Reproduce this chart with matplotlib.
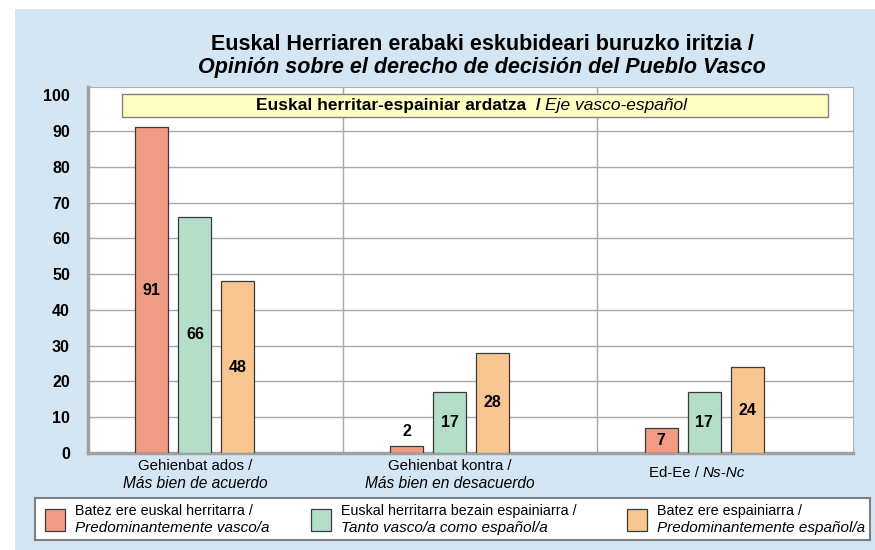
import numpy as np
import matplotlib
matplotlib.use('Agg')
import matplotlib.pyplot as plt
from matplotlib.patches import Rectangle
from matplotlib import transforms

plt.rcParams['font.family'] = ['Liberation Sans', 'DejaVu Sans']

# data
categories = ['Gehienbat ados /', 'Gehienbat kontra /', 'Ed-Ee / ']
categories_es = ['Más bien de acuerdo', 'Más bien en desacuerdo', 'Ns-Nc']
series_eu = ['Batez ere euskal herritarra /', 'Euskal herritarra bezain espainiarra /',
             'Batez ere espainiarra /']
series_es = ['Predominantemente vasco/a', 'Tanto vasco/a como español/a',
             'Predominantemente español/a']
vasco = [91, 2, 7]
tanto = [66, 17, 17]
espanol = [48, 28, 24]
values = [vasco, tanto, espanol]
colors = ['#f09c84', '#b4dec8', '#f8c690']
yticks = list(range(0, 101, 10))

fig = plt.figure(figsize=(8.75, 5.5), dpi=100)
fig.patch.set_facecolor('white')
fig.patches.append(Rectangle((15 / 875, 0), 1, 1 - 9 / 550, transform=fig.transFigure,
                             facecolor='#d4e6f4', edgecolor='none', zorder=-10))

ax = fig.add_axes([88 / 875, 97 / 550, 765 / 875, 366 / 550])
ax.set_facecolor('white')

x = np.arange(len(categories))
width = 0.13
step = 0.169
for i, (vals, c) in enumerate(zip(values, colors)):
    pos = x + (i - 1) * step
    ax.bar(pos, vals, width, color=c, edgecolor='#3a3a3a', linewidth=0.9, zorder=3)
    for p, v in zip(pos, vals):
        ypos = v / 2 if v > 5 else v + 4
        ax.text(p, ypos, str(v), ha='center', va='center', fontsize=11.5,
                fontweight='bold', zorder=4)

ax.set_xlim(-0.42, 2.585)
ax.set_ylim(0, 102.3)
ax.set_yticks(yticks)
ax.set_yticklabels([str(t) for t in yticks], fontsize=11.5, fontweight='bold')
ax.tick_params(axis='y', length=0, pad=13)
ax.set_xticks([])
ax.grid(axis='y', color='#a8a8a8', linewidth=1, zorder=0)
ax.yaxis.get_gridlines()[-1].set_visible(False)
for xv in [0.58, 1.58]:
    ax.axvline(xv, color='#a8a8a8', linewidth=1, zorder=0)
for s in ['top', 'right']:
    ax.spines[s].set_color('#b0b0b0')
for s in ['left', 'bottom']:
    ax.spines[s].set_color('#a0a0a0')
    ax.spines[s].set_linewidth(2.5)

# category labels
trans = transforms.blended_transform_factory(ax.transData, ax.transAxes)
for xi, eu, es in zip(x, categories, categories_es):
    if es == 'Ns-Nc':
        ax.text(xi - 0.005, -0.055, eu, transform=trans, ha='right', va='center', fontsize=10.8)
        ax.text(xi - 0.005, -0.055, es, transform=trans, ha='left', va='center',
                fontsize=11, style='italic')
    else:
        ax.text(xi, -0.036, eu, transform=trans, ha='center', va='center', fontsize=10.8)
        ax.text(xi, -0.082, es, transform=trans, ha='center', va='center',
                fontsize=11.2, style='italic')

# yellow banner
ax.add_patch(Rectangle((0.044, 0.918), 0.923, 0.063, transform=ax.transAxes,
                       facecolor='#ffffc4', edgecolor='#808080', linewidth=1,
                       zorder=5, clip_on=False))
ax.text(0.592, 0.949, 'Euskal herritar-espainiar ardatza  /', transform=ax.transAxes,
        ha='right', va='center', fontsize=12.5, fontweight='bold', zorder=6)
ax.text(0.598, 0.949, 'Eje vasco-español', transform=ax.transAxes,
        ha='left', va='center', fontsize=12.5, style='italic', zorder=6)

# title
fig.text(482 / 875, 1 - 44 / 550, 'Euskal Herriaren erabaki eskubideari buruzko iritzia /',
         ha='center', va='center', fontsize=15.5, fontweight='bold')
fig.text(482 / 875, 1 - 67 / 550, 'Opinión sobre el derecho de decisión del Pueblo Vasco',
         ha='center', va='center', fontsize=15.5, fontweight='bold', style='italic')

# legend box
lax = fig.add_axes([35 / 875, 10 / 550, 835 / 875, 42 / 550])
lax.set_xlim(0, 835)
lax.set_ylim(42, 0)
lax.set_xticks([])
lax.set_yticks([])
lax.set_facecolor('white')
for s in lax.spines.values():
    s.set_color('#808080')
    s.set_linewidth(1.5)
patch_x = [10, 276, 592]
for px, c, eu, es in zip(patch_x, colors, series_eu, series_es):
    lax.add_patch(Rectangle((px, 11), 20, 22, facecolor=c, edgecolor='#3a3a3a', linewidth=0.9))
    lax.text(px + 30, 13, eu, ha='left', va='center', fontsize=10.3)
    lax.text(px + 30, 30, es, ha='left', va='center', fontsize=11, style='italic')

fig.savefig('out.png', dpi=100)
